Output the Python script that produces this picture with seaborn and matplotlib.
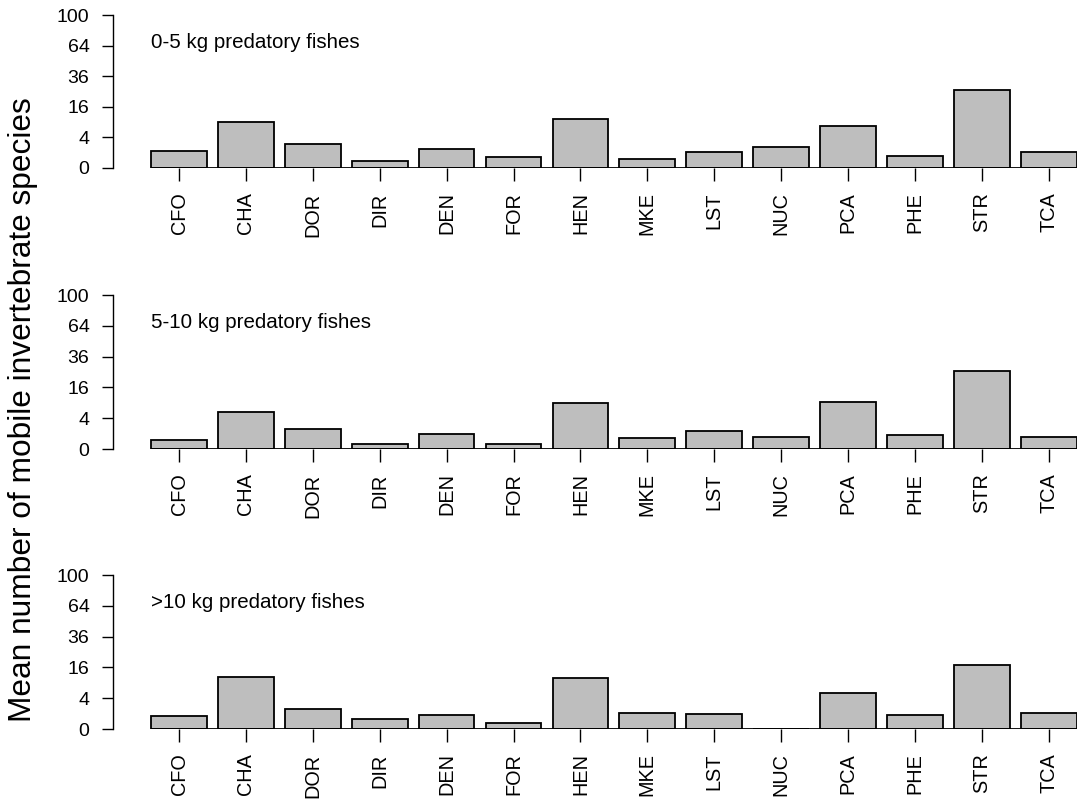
import numpy as np
import pandas as pd
import matplotlib
matplotlib.use("Agg")
import matplotlib.pyplot as plt
import seaborn as sns

# species codes on the x axis
species = ["CFO", "CHA", "DOR", "DIR", "DEN", "FOR", "HEN",
           "MKE", "LST", "NUC", "PCA", "PHE", "STR", "TCA"]

# mean number of mobile invertebrate species, per predator size class
small_fish = [1.17, 9.2, 2.5, 0.23, 1.54, 0.48, 10.3, 0.32, 1.04, 1.93, 7.6, 0.57, 26.3, 1.13]
medium_fish = [0.34, 5.8, 1.64, 0.10, 0.95, 0.09, 9.0, 0.51, 1.41, 0.64, 9.3, 0.83, 25.8, 0.61]
large_fish = [0.67, 11.4, 1.68, 0.42, 0.82, 0.17, 10.9, 1.02, 0.90, 0.0, 5.6, 0.82, 17.2, 1.02]

panel_titles = ["0-5 kg predatory fishes", "5-10 kg predatory fishes", ">10 kg predatory fishes"]
y_ticks = [0, 4, 16, 36, 64, 100]

sns.set_style("white")
plt.rcParams["font.family"] = ["Liberation Sans", "DejaVu Sans"]
plt.rcParams["text.color"] = "black"

W, H = 1077, 805
fig = plt.figure(figsize=(W / 100, H / 100), dpi=100)

# pixel layout of each panel (top, bottom of the y axis)
panel_px = [(15, 168), (295, 449), (575, 729)]
left_px = 113
bar_w = 1 / 1.2

for values, title, (top, bot) in zip([small_fish, medium_fish, large_fish], panel_titles, panel_px):
    ax = fig.add_axes([left_px / W, (H - bot) / H, (W - left_px) / W, (bot - top) / H])
    df = pd.DataFrame({"species": species, "value": values})
    sns.barplot(data=df, x="species", y="value", order=species, color="#BEBEBE",
                saturation=1, edgecolor="black", linewidth=1.3, width=bar_w, ax=ax)
    # square-root y axis
    ax.set_yscale("function", functions=(lambda v: np.sqrt(np.clip(v, 0, None)), np.square))
    ax.set_ylim(0, 100)
    ax.set_xlim(-0.987, (W - 179) / 66.9)
    ax.set_yticks(y_ticks)
    ax.set_yticklabels([str(t) for t in y_ticks])
    ax.set_xlabel("")
    ax.set_ylabel("")
    for s in ["top", "right", "bottom"]:
        ax.spines[s].set_visible(False)
    ax.spines["left"].set_bounds(0, 100)
    ax.spines["left"].set_linewidth(1.0)
    ax.spines["left"].set_color("black")
    ax.hlines(0, -bar_w / 2, len(species) - 1 + bar_w / 2, color="black", lw=1.3, zorder=5)
    ax.tick_params(axis="y", direction="out", length=8, width=1.0, pad=9,
                   labelsize=14, colors="black", left=True)
    ax.tick_params(axis="x", direction="out", length=9.6, width=1.0, pad=8,
                   labelsize=14.3, colors="black", labelrotation=90, bottom=True)
    ax.text((151 - left_px) / (W - left_px), (bot - top - 27) / (bot - top), title,
            transform=ax.transAxes, fontsize=14.8, va="center", ha="left", color="black")

fig.text(23 / W, (H - 410) / H, "Mean number of mobile invertebrate species", rotation=90,
         fontsize=22.8, va="center", ha="center", color="black")

fig.savefig("out.png", dpi=100)
